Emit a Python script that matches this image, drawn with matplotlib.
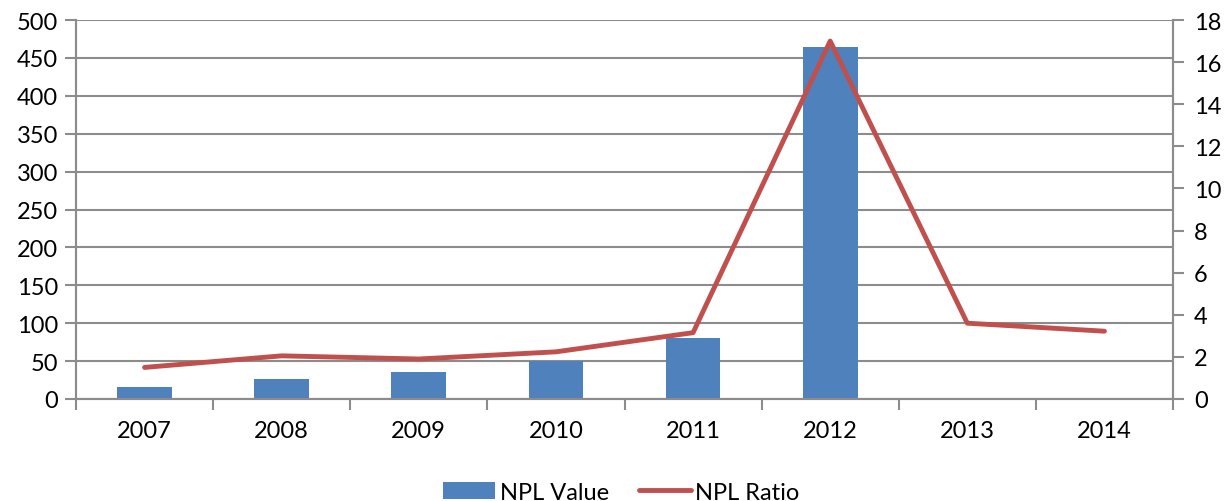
import matplotlib.pyplot as plt
import numpy as np

# Data -----
years = ["2007", "2008", "2009", "2010", "2011", "2012", "2013", "2014"]
npl_value = [16, 27, 35, 50, 80, 464, 0, 0]
npl_ratio = [1.5, 2.05, 1.9, 2.24, 3.15, 17.0, 3.6, 3.22]

bar_color = "#4F81BD"
line_color = "#C0504D"
grid_color = "#8C8C8C"

plt.rcParams["font.family"] = ["Lato", "DejaVu Sans"]
plt.rcParams["font.size"] = 17

# Plot -----
fig = plt.figure(figsize=(12.26, 5.02), dpi=100)
ax = fig.add_axes([76 / 1226, 1 - 400 / 502, 1097 / 1226, 379 / 502])
ax2 = ax.twinx()

x = np.arange(len(years))
ax.bar(x, npl_value, width=0.4, color=bar_color, label="NPL Value", zorder=2)
ax2.plot(x, npl_ratio, color=line_color, linewidth=3.5, solid_capstyle="round",
         label="NPL Ratio", zorder=3)

ax.set_xlim(-0.5, len(years) - 0.5)
ax.set_ylim(0, 500)
ax.set_yticks(np.arange(0, 501, 50))
ax2.set_ylim(0, 18)
ax2.set_yticks(np.arange(0, 19, 2))

# category ticks sit between the labels
ax.set_xticks(np.arange(-0.5, len(years), 1))
ax.set_xticklabels([])
ax.set_xticks(x, minor=True)
ax.set_xticklabels(years, minor=True)
ax.tick_params(axis="x", which="major", length=8, width=1.5, color=grid_color)
ax.tick_params(axis="x", which="minor", length=0, pad=15)
ax.tick_params(axis="y", length=8, width=1.5, color=grid_color, pad=5)
ax2.tick_params(axis="y", length=8, width=1.5, color=grid_color, pad=7)

ax.yaxis.grid(True, color=grid_color, linewidth=1.5, zorder=0)
ax.set_axisbelow(True)

for a in (ax, ax2):
    a.spines["top"].set_visible(False)
    for s in ("left", "right", "bottom"):
        a.spines[s].set_color(grid_color)
        a.spines[s].set_linewidth(1.5)
ax2.set_zorder(ax.get_zorder() + 1)
ax2.patch.set_visible(False)

h1, l1 = ax.get_legend_handles_labels()
h2, l2 = ax2.get_legend_handles_labels()
fig.legend(h1 + h2, l1 + l2, loc="lower center", bbox_to_anchor=(0.507, -0.022),
           borderaxespad=0, ncol=2, frameon=False, handlelength=2.2,
           handletextpad=0.2, columnspacing=1.25, fontsize=17)

plt.savefig("out.png", dpi=100)
